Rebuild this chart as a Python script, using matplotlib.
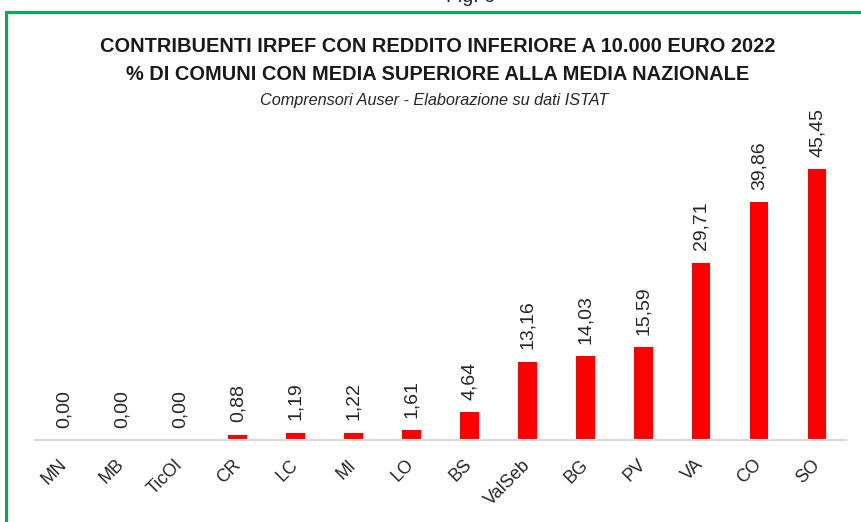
import matplotlib.pyplot as plt
from matplotlib.patches import Rectangle

categories = ["MN", "MB", "TicOl", "CR", "LC", "MI", "LO", "BS",
              "ValSeb", "BG", "PV", "VA", "CO", "SO"]
values = [0.00, 0.00, 0.00, 0.88, 1.19, 1.22, 1.61, 4.64,
          13.16, 14.03, 15.59, 29.71, 39.86, 45.45]

title_1 = "CONTRIBUENTI IRPEF CON REDDITO INFERIORE A 10.000 EURO 2022"
title_2 = "% DI COMUNI CON MEDIA SUPERIORE ALLA MEDIA NAZIONALE"
subtitle = "Comprensori Auser - Elaborazione su dati ISTAT"

plt.rcParams["font.family"] = ["Liberation Sans", "DejaVu Sans"]

fig = plt.figure(figsize=(8.61, 5.22), dpi=100)
ax = fig.add_axes([35 / 861, 82 / 522, 811 / 861, 298 / 522])

x = range(len(categories))
ax.bar(x, values, width=0.32, color="#FF0000")
for i, v in enumerate(values):
    ax.annotate(f"{v:.2f}".replace(".", ","), (i, v), xytext=(0, 9),
                textcoords="offset points", rotation=90, ha="center",
                va="bottom", fontsize=14, color="#262626")

ax.set_xlim(-0.5, len(categories) - 0.5)
ax.set_ylim(0, 50)
ax.set_xticks(list(x))
ax.set_xticklabels(categories, rotation=45, ha="right", va="center",
                   rotation_mode="anchor", fontsize=13, color="#262626")
ax.tick_params(axis="x", length=0, pad=16)
ax.set_yticks([])
for s in ["top", "left", "right"]:
    ax.spines[s].set_visible(False)
ax.spines["bottom"].set_color("#D9D9D9")
ax.spines["bottom"].set_linewidth(1.5)

fig.text(438 / 861, 1 - 46 / 522, title_1, ha="center", va="center",
         fontsize=14.4, fontweight="bold", color="#1a1a1a")
fig.text(438 / 861, 1 - 74 / 522, title_2, ha="center", va="center",
         fontsize=14.4, fontweight="bold", color="#1a1a1a")
fig.text(434 / 861, 1 - 101 / 522, subtitle, ha="center", va="center",
         fontsize=11.7, style="italic", color="#262626")
fig.text(470 / 861, 1 + 2 / 522, "Fig. 6", ha="center", va="center",
         fontsize=14, color="#222222")

fig.patches.append(Rectangle((6 / 861, -0.1), 1.0, 1.1 - 12 / 522,
                             transform=fig.transFigure, fill=False,
                             edgecolor="#00B050", linewidth=2.2))

fig.savefig("out.png", dpi=100)
